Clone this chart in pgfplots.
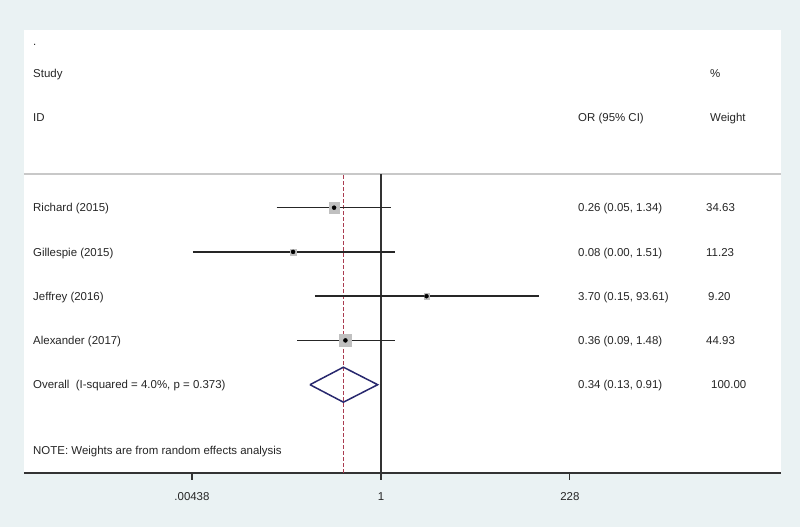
\documentclass[border=0pt]{standalone}
\usepackage{pgfplots}
\pgfplotsset{compat=1.18}
\usepackage{fontspec}
\setmainfont{Liberation Sans}
\definecolor{bgblue}{RGB}{234,242,243}
\definecolor{statanavy}{RGB}{40,40,110}
\definecolor{dashred}{RGB}{170,60,80}
\definecolor{boxgray}{RGB}{192,192,192}
\definecolor{sepgray}{RGB}{200,200,200}
\newcommand{\tf}{\fontsize{11.5}{13}\selectfont}
\begin{document}
\begin{tikzpicture}[x=1bp,y=1bp]
\fill[bgblue] (0,0) rectangle (800,527);
\begin{axis}[at={(24bp,54bp)}, anchor=south west, scale only axis,
  width=757bp, height=443bp,
  xmode=log, xmin=3.51e-5, xmax=98200, ymin=54, ymax=497,
  axis x line=bottom, axis y line=none,
  axis line style={-, black!80, line width=1.2pt},
  xtick={0.00438,1,228}, xticklabels={.00438,1,228},
  tick align=outside, major tick length=7bp, minor tick num=0,
  xtick style={black!80, line width=1.1pt},
  xticklabel style={font=\tf, text=black!85, yshift=-9bp},
  axis background/.style={fill=white},
  clip=false]
% header separator
\addplot[sepgray, line width=1.1pt, forget plot] coordinates {(3.51e-5,353) (98200,353)};
% null line and overall line
\addplot[black!80, line width=1.2pt, forget plot] coordinates {(1,54) (1,353)};
\addplot[dashred, line width=1.6pt, dash pattern=on 3.5bp off 2.5bp, forget plot] coordinates {(0.34,54) (0.34,353)};
% weight boxes (size by weight)
\addplot[boxgray, only marks, mark=square*, mark size=5.3bp, forget plot] coordinates {(0.26,319.3)};
\addplot[boxgray, only marks, mark=square*, mark size=2.9bp, forget plot] coordinates {(0.08,275.1)};
\addplot[boxgray, only marks, mark=square*, mark size=2.8bp, forget plot] coordinates {(3.70,230.8)};
\addplot[boxgray, only marks, mark=square*, mark size=6.0bp, forget plot] coordinates {(0.36,186.6)};
% confidence intervals
\addplot[black!85, line width=1.5pt, forget plot] coordinates {(0.05,319.3) (1.34,319.3)};
\addplot[black!85, line width=1.5pt, forget plot] coordinates {(0.0045,275.1) (1.51,275.1)};
\addplot[black!85, line width=1.5pt, forget plot] coordinates {(0.15,230.8) (93.61,230.8)};
\addplot[black!85, line width=1.5pt, forget plot] coordinates {(0.09,186.6) (1.48,186.6)};
% point estimates
\addplot[black, only marks, mark=*, mark size=2bp, forget plot]
  coordinates {(0.26,319.3) (0.08,275.1) (3.70,230.8) (0.36,186.6)};
% overall diamond
\addplot[statanavy, line width=1.5pt, forget plot] coordinates {(0.13,142.3) (0.34,159.8) (0.91,142.3) (0.34,124.8) (0.13,142.3)};
\end{axis}
\begin{scope}[every node/.style={inner sep=0pt, anchor=base west, font=\tf, text=black!85}]
\node at (33,481) {.};
\node at (33,449) {Study};
\node at (33,405) {ID};
\node at (578,405) {OR (95\% CI)};
\node at (710,449) {\%};
\node at (710,405) {Weight};
\node at (33,315.1) {Richard (2015)};
\node at (33,270.9) {Gillespie (2015)};
\node at (33,226.6) {Jeffrey (2016)};
\node at (33,182.4) {Alexander (2017)};
\node at (33,138.1) {Overall\ \ (I-squared = 4.0\%, p = 0.373)};
\node at (33,72.8) {NOTE: Weights are from random effects analysis};
\node at (578,315.1) {0.26 (0.05, 1.34)};
\node at (578,270.9) {0.08 (0.00, 1.51)};
\node at (578,226.6) {3.70 (0.15, 93.61)};
\node at (578,182.4) {0.36 (0.09, 1.48)};
\node at (578,138.1) {0.34 (0.13, 0.91)};
\node at (706,315.1) {34.63};
\node at (706,270.9) {11.23};
\node at (708,226.6) {9.20};
\node at (706,182.4) {44.93};
\node at (711,138.1) {100.00};
\end{scope}
\end{tikzpicture}
\end{document}
